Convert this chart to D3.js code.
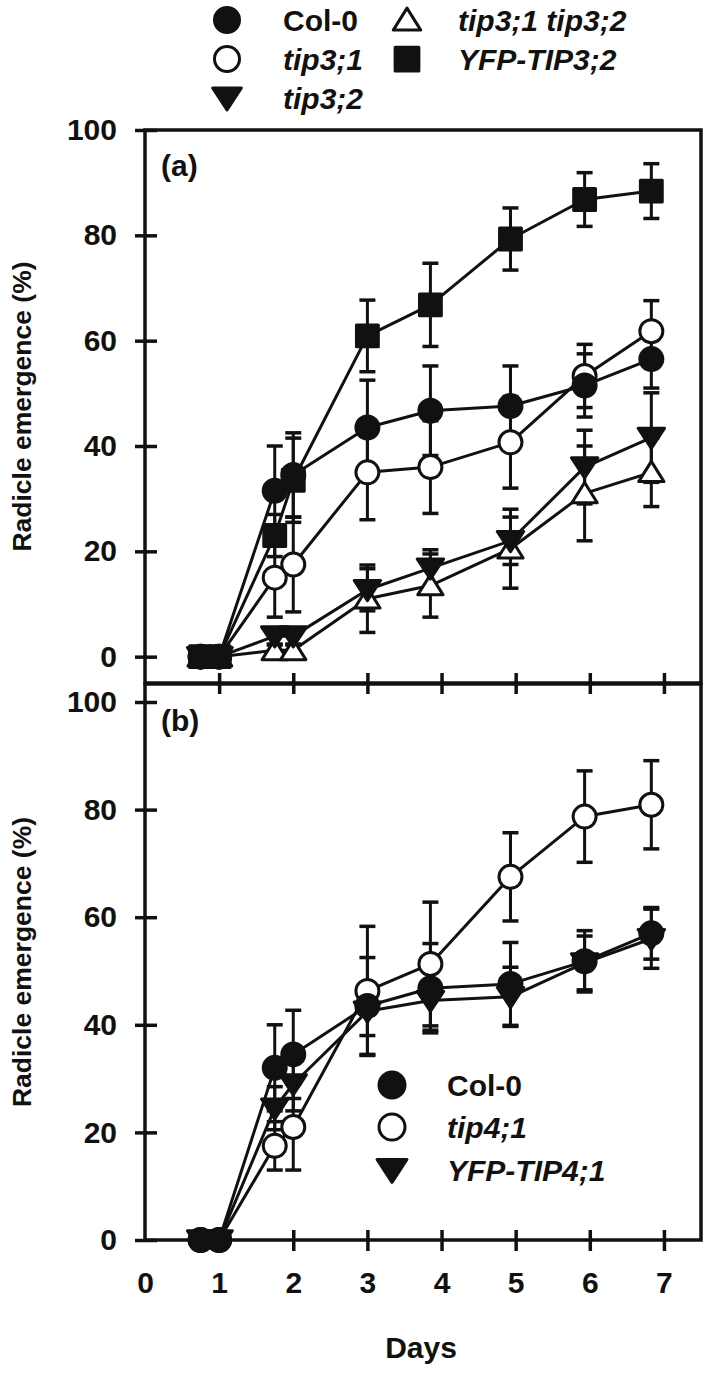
<!DOCTYPE html>
<html><head><meta charset="utf-8">
<script src="https://cdn.jsdelivr.net/npm/d3@7"></script>
<style>
html,body{margin:0;padding:0;background:#fff;}
svg{display:block;}
text{font-family:"Liberation Sans",Arial,sans-serif;font-weight:bold;fill:#111;}
</style></head>
<body>
<svg id="chart" width="709" height="1373"></svg>
<script>
// ---- data ----
const days = [0.75, 1, 1.75, 2, 3, 3.85, 4.93, 5.93, 6.83];
const xTickLabels = [0, 1, 2, 3, 4, 5, 6, 7];
const yTickValues = [0, 20, 40, 60, 80, 100];

// panel (a)
const aCol0      = [0, 0, 31.5, 34.5, 43.5, 46.7, 47.6, 51.5, 56.5];
const aCol0Err   = [0, 0, 8.5, 8, 9, 8.5, 7.6, 6, 5.5];
const aTip31     = [0, 0, 15, 17.5, 35, 36, 40.7, 53.3, 61.8];
const aTip31Err  = [0, 0, 7.5, 9, 9, 8.8, 8.7, 6, 5.8];
const aTip32     = [0, 0, 3.9, 3.9, 12.7, 16.8, 22, 36, 41.6];
const aTip32Err  = [0, 0, 1.5, 1.5, 4, 3.5, 4.5, 7, 8.5];
const aDouble    = [0, 0, 1.2, 1.2, 11, 13.5, 20.5, 31, 35];
const aDoubleErr = [0, 0, 1, 1, 6.4, 6, 7.5, 9, 6.5];
const aYfp       = [0, 0, 23, 33.5, 60.9, 66.8, 79.3, 86.8, 88.4];
const aYfpErr    = [0, 0, 4, 8, 6.8, 7.9, 5.9, 5.1, 5.2];

// panel (b)
const bCol0      = [0, 0, 32, 34.5, 43.5, 46.8, 47.6, 51.8, 57];
const bCol0Err   = [0, 0, 8, 8.2, 9, 8.3, 7.7, 5.7, 4.8];
const bTip41     = [0, 0, 17.5, 21, 46.3, 51.3, 67.5, 78.7, 80.9];
const bTip41Err  = [0, 0, 4.5, 8, 12, 11.5, 8.2, 8.5, 8.2];
const bYfp       = [0, 0, 24.5, 29, 42.5, 44.5, 45.2, 51.5, 56];
const bYfpErr    = [0, 0, 4, 5, 4.5, 5.5, 5.5, 5, 5.5];

const seriesA = [
  {name:"YFP-TIP3;2", italic:true, shape:"square", fill:"#111", v:aYfp, e:aYfpErr},
  {name:"tip3;1 tip3;2", italic:true, shape:"triUp", fill:"#fff", v:aDouble, e:aDoubleErr},
  {name:"tip3;2", italic:true, shape:"triDown", fill:"#111", v:aTip32, e:aTip32Err},
  {name:"tip3;1", italic:true, shape:"circle", fill:"#fff", v:aTip31, e:aTip31Err},
  {name:"Col-0", italic:false, shape:"circle", fill:"#111", v:aCol0, e:aCol0Err}
];
const seriesB = [
  {name:"YFP-TIP4;1", italic:true, shape:"triDown", fill:"#111", v:bYfp, e:bYfpErr},
  {name:"tip4;1", italic:true, shape:"circle", fill:"#fff", v:bTip41, e:bTip41Err},
  {name:"Col-0", italic:false, shape:"circle", fill:"#111", v:bCol0, e:bCol0Err}
];
const legendA = [
  {name:"Col-0", italic:false, shape:"circle", fill:"#111", col:0, row:0},
  {name:"tip3;1", italic:true, shape:"circle", fill:"#fff", col:0, row:1},
  {name:"tip3;2", italic:true, shape:"triDown", fill:"#111", col:0, row:2},
  {name:"tip3;1 tip3;2", italic:true, shape:"triUp", fill:"#fff", col:1, row:0},
  {name:"YFP-TIP3;2", italic:true, shape:"square", fill:"#111", col:1, row:1}
];
const legendB = [
  {name:"Col-0", italic:false, shape:"circle", fill:"#111"},
  {name:"tip4;1", italic:true, shape:"circle", fill:"#fff"},
  {name:"YFP-TIP4;1", italic:true, shape:"triDown", fill:"#111"}
];

// ---- layout ----
const svg = d3.select("#chart");
const X0 = 145, X1 = 701;
const x = d3.scaleLinear().domain([0, 7.5]).range([X0, X1]);
const yA = d3.scaleLinear().domain([-5, 100]).range([683, 130]);
const yB = d3.scaleLinear().domain([0, 100]).range([1240, 702]);
const ink = "#111";

function shapePath(shape, s) {
  if (shape === "circle") return d3.symbol(d3.symbolCircle, Math.PI * s * s)();
  if (shape === "square") { const h = s * 0.95; return `M${-h},${-h}H${h}V${h}H${-h}Z`; }
  if (shape === "triUp") { const w = s * 1.1, h = s * 0.95; return `M0,${-h}L${w},${h * 0.85}L${-w},${h * 0.85}Z`; }
  if (shape === "triDown") { const w = s * 1.15, h = s * 0.95; return `M0,${h}L${w},${-h * 0.85}L${-w},${-h * 0.85}Z`; }
}
function drawMarker(g, shape, fill, cx, cy, s) {
  g.append("path").attr("d", shapePath(shape, s))
    .attr("transform", `translate(${cx},${cy})`)
    .attr("fill", fill).attr("stroke", ink).attr("stroke-width", 3).attr("stroke-linejoin", "round");
}

function panel(series, y, top, bottom, label, labelBaseline) {
  const g = svg.append("g");
  // lines
  series.forEach(s => {
    const line = d3.line().x((d, i) => x(days[i])).y(d => y(d));
    g.append("path").datum(s.v).attr("d", line).attr("fill", "none")
      .attr("stroke", ink).attr("stroke-width", 3).attr("stroke-linejoin", "round");
  });
  // error bars
  series.forEach(s => {
    s.v.forEach((v, i) => {
      const e = s.e[i];
      if (!e) return;
      const cx = x(days[i]);
      g.append("line").attr("x1", cx).attr("x2", cx).attr("y1", y(v - e)).attr("y2", y(v + e))
        .attr("stroke", ink).attr("stroke-width", 3);
      [v - e, v + e].forEach(t => g.append("line").attr("x1", cx - 8).attr("x2", cx + 8)
        .attr("y1", y(t)).attr("y2", y(t)).attr("stroke", ink).attr("stroke-width", 3.5));
    });
  });
  // markers
  series.forEach(s => {
    s.v.forEach((v, i) => drawMarker(g, s.shape, s.fill, x(days[i]), y(v), 11.5));
  });
  // frame
  svg.append("rect").attr("x", X0).attr("y", top).attr("width", X1 - X0).attr("height", bottom - top)
    .attr("fill", "none").attr("stroke", ink).attr("stroke-width", 3.5);
  // y axis
  const yl = svg.append("g").attr("transform", `translate(${X0},0)`)
    .call(d3.axisLeft(y).tickValues(yTickValues).tickSize(10).tickPadding(18));
  const yr = svg.append("g").attr("transform", `translate(${X0},0)`)
    .call(d3.axisRight(y).tickValues(yTickValues).tickSize(12).tickFormat(""));
  [yl, yr].forEach(a => {
    a.select(".domain").remove();
    a.selectAll("line").attr("stroke", ink).attr("stroke-width", 3.5);
    a.selectAll("text").attr("font-size", 30).attr("fill", ink)
      .style("font-family", '"Liberation Sans",Arial,sans-serif').style("font-weight", "bold");
  });
  // panel label
  svg.append("text").attr("x", 161).attr("y", labelBaseline).attr("font-size", 30).text(label);
  // y title
  svg.append("text").attr("transform", `translate(31,${(top + bottom) / 2}) rotate(-90)`)
    .attr("text-anchor", "middle").attr("font-size", 26.5).text("Radicle emergence (%)");
}

panel(seriesA, yA, 130, 683, "(a)", 176);
panel(seriesB, yB, 684, 1240, "(b)", 731);

// x ticks (crossing) at the shared border and at the bottom
[683, 1240].forEach(yy => {
  const dn = svg.append("g").attr("transform", `translate(0,${yy})`)
    .call(d3.axisBottom(x).tickValues(xTickLabels.slice(1)).tickSize(11).tickFormat(""));
  const up = svg.append("g").attr("transform", `translate(0,${yy})`)
    .call(d3.axisTop(x).tickValues(xTickLabels.slice(1)).tickSize(10).tickFormat(""));
  [dn, up].forEach(a => { a.select(".domain").remove(); a.selectAll("line").attr("stroke", ink).attr("stroke-width", 3.5); });
});
const xl = svg.append("g").attr("transform", "translate(0,1240)")
  .call(d3.axisBottom(x).tickValues(xTickLabels).tickSize(0).tickPadding(32).tickFormat(d3.format("d")));
xl.select(".domain").remove();
xl.selectAll("text").attr("font-size", 30).attr("fill", ink)
  .style("font-family", '"Liberation Sans",Arial,sans-serif').style("font-weight", "bold");

svg.append("text").attr("x", 421).attr("y", 1358).attr("text-anchor", "middle").attr("font-size", 30).text("Days");

// legends
const lgA = svg.append("g");
legendA.forEach(d => {
  const cy = [20, 59, 98][d.row];
  const mx = d.col === 0 ? 227 : 407;
  const tx = d.col === 0 ? 283 : 458;
  drawMarker(lgA, d.shape, d.fill, mx, cy, 12.5);
  lgA.append("text").attr("x", tx).attr("y", cy + 11).attr("font-size", 30)
    .attr("font-style", d.italic ? "italic" : "normal").text(d.name);
});
const lgB = svg.append("g");
legendB.forEach((d, i) => {
  const cy = [1085, 1127, 1170][i];
  drawMarker(lgB, d.shape, d.fill, 392, cy, 13);
  lgB.append("text").attr("x", 447).attr("y", cy + 11).attr("font-size", 30)
    .attr("font-style", d.italic ? "italic" : "normal").text(d.name);
});
</script>
</body></html>
